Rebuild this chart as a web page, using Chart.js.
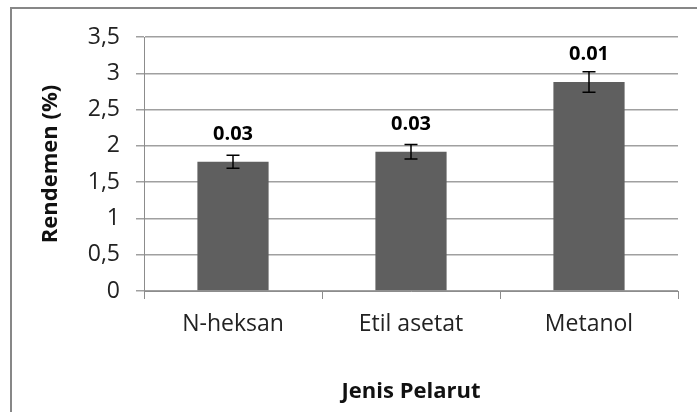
<!DOCTYPE html>
<html>
<head>
<meta charset="utf-8">
<script src="https://cdn.jsdelivr.net/npm/chart.js@4"></script>
<style>
  html, body { margin: 0; padding: 0; background: #ffffff; }
  #wrap { position: relative; width: 697px; height: 412px; }
  canvas { display: block; }
</style>
</head>
<body>
<div id="wrap"><canvas id="c" width="697" height="412"></canvas></div>
<script>
// ---- data ----
const categories = ['N-heksan', 'Etil asetat', 'Metanol'];
const rendemen = [1.78, 1.92, 2.88];
const errors = [0.09, 0.10, 0.14];
const valueLabels = ['0.03', '0.03', '0.01'];
const yTickLabels = ['0', '0,5', '1', '1,5', '2', '2,5', '3', '3,5'];
const xTitle = 'Jenis Pelarut';
const yTitle = 'Rendemen (%)';

const FONT = "'Open Sans', 'Noto Sans', sans-serif";

const framePlugin = {
  id: 'frame',
  beforeDraw(chart) {
    const ctx = chart.ctx;
    ctx.save();
    ctx.strokeStyle = '#878787';
    ctx.lineWidth = 2;
    ctx.strokeRect(11, 8, 720, 430);
    ctx.restore();
  }
};

const errorBarPlugin = {
  id: 'errorBars',
  afterDatasetsDraw(chart) {
    const ctx = chart.ctx;
    const meta = chart.getDatasetMeta(0);
    const yScale = chart.scales.y;
    ctx.save();
    meta.data.forEach((bar, i) => {
      const v = rendemen[i];
      const e = errors[i];
      const x = bar.x;
      const yTop = yScale.getPixelForValue(v + e);
      const yBot = yScale.getPixelForValue(v - e);
      ctx.strokeStyle = '#000000';
      ctx.lineWidth = 1.5;
      ctx.beginPath();
      ctx.moveTo(x, yTop); ctx.lineTo(x, yBot);
      ctx.moveTo(x - 6.5, yTop); ctx.lineTo(x + 6.5, yTop);
      ctx.moveTo(x - 6.5, yBot); ctx.lineTo(x + 6.5, yBot);
      ctx.stroke();
      // value label
      ctx.fillStyle = '#000000';
      ctx.font = "bold 20px " + FONT;
      ctx.textAlign = 'center';
      ctx.textBaseline = 'alphabetic';
      ctx.fillText(valueLabels[i], x, bar.y - 22);
    });
    ctx.restore();
  }
};

new Chart(document.getElementById('c'), {
  type: 'bar',
  data: {
    labels: categories,
    datasets: [{
      data: rendemen,
      backgroundColor: '#5f5f5f',
      borderWidth: 0,
      categoryPercentage: 1.0,
      barPercentage: 0.4
    }]
  },
  options: {
    responsive: false,
    animation: false,
    devicePixelRatio: 1,
    layout: { padding: { left: 0, right: 19, top: 37, bottom: 0 } },
    plugins: {
      legend: { display: false },
      tooltip: { enabled: false }
    },
    scales: {
      x: {
        afterFit(scale) { scale.height = 121; },
        grid: {
          drawOnChartArea: false,
          drawTicks: true,
          tickLength: 8,
          color: '#8c8c8c',
          lineWidth: 1
        },
        border: { display: true, color: '#8c8c8c', width: 1 },
        ticks: {
          color: '#222222',
          font: { family: FONT, size: 23 },
          padding: 12,
          maxRotation: 0
        },
        title: {
          display: true,
          text: xTitle,
          color: '#111111',
          font: { family: FONT, size: 22, weight: 'bold' },
          padding: { top: 4, bottom: 7 }
        }
      },
      y: {
        min: 0,
        max: 3.5,
        afterFit(scale) { scale.width = 144; },
        ticks: {
          stepSize: 0.5,
          color: '#222222',
          font: { family: FONT, size: 23 },
          padding: 16,
          callback(value, index) { return yTickLabels[index]; }
        },
        grid: {
          color: '#a0a0a0',
          lineWidth: 1.5,
          drawTicks: true,
          tickLength: 8
        },
        border: { display: true, color: '#8c8c8c', width: 1 },
        title: {
          display: true,
          text: yTitle,
          color: '#111111',
          font: { family: FONT, size: 22, weight: 'bold' },
          padding: { top: 38, bottom: 0 }
        }
      }
    }
  },
  plugins: [framePlugin, errorBarPlugin]
});
</script>
</body>
</html>
